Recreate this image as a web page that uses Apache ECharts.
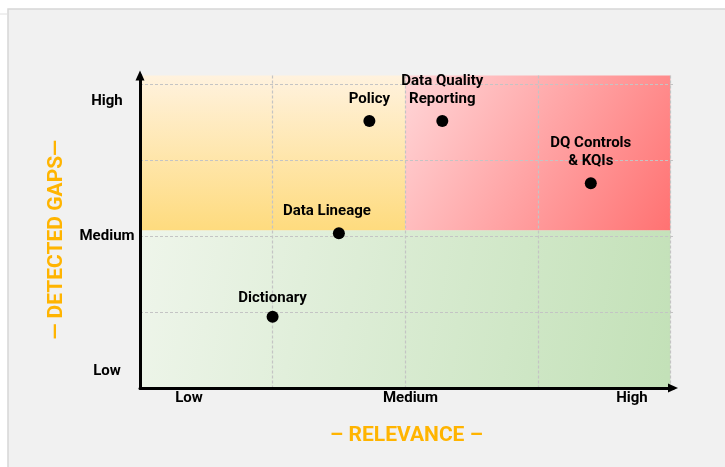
<!DOCTYPE html>
<html><head><meta charset="utf-8">
<script src="https://cdn.jsdelivr.net/npm/echarts@6/dist/echarts.min.js"></script>
<style>html,body{margin:0;padding:0;background:#fff}#c{width:725px;height:467px}</style>
</head><body><div id="c"></div>
<script>
// ---- data ----
const pointNames = ['Policy', 'Data Quality\nReporting', 'DQ Controls\n& KQIs', 'Data Lineage', 'Dictionary'];
const relevance = [1.73, 2.28, 3.40, 1.50, 1.00];
const detectedGaps = [3.52, 3.52, 2.70, 2.04, 0.94];
const xTickLabels = ['Low', 'Medium', 'High'];
const xTickValues = [0.37, 2.04, 3.71];
const yTickLabels = ['Low', 'Medium', 'High'];
const yTickValues = [0.22, 2.0, 3.78];
const gridValues = [0, 1, 2, 3, 4];
const zoneX = [[0, 4], [0, 2], [2, 4]];
const zoneY = [[0, 2.08], [2.08, 4.12], [2.08, 4.12]];
const xName = '– RELEVANCE –';
const yName = '— DETECTED GAPS—';

// ---- styles ----
const FONT = 'Roboto, "Liberation Sans", Arial, sans-serif';
const ORANGE = '#FFB400';
const zoneColors = [
  {type: 'linear', x: 0, y: 0.2, x2: 1, y2: 0.8, colorStops: [{offset: 0, color: '#eef5ea'}, {offset: 1, color: '#c3e1b8'}]},
  {type: 'linear', x: 0, y: 0, x2: 0, y2: 1, colorStops: [{offset: 0, color: '#fff2de'}, {offset: 1, color: '#fedb7e'}]},
  {type: 'linear', x: 0, y: 0, x2: 1, y2: 1, colorStops: [{offset: 0, color: '#ffd6d8'}, {offset: 1, color: '#ff7272'}]}
];
const labelOffsets = {'Data Lineage': [-12, 0], 'Dictionary': [0, 4]};

function pick(values, labels) {
  return function (v) {
    const i = values.findIndex(t => Math.abs(t - v) < 1e-6);
    return i >= 0 ? labels[i] : '';
  };
}

const chart = echarts.init(document.getElementById('c'), null, {renderer: 'canvas'});
const axisLineStyle = {color: '#000', width: 3};
const splitStyle = {show: true, lineStyle: {color: '#c4c4c4', width: 1.2, type: [3, 2]}};

chart.setOption({
  backgroundColor: '#ffffff',
  animation: false,
  graphic: [
    {type: 'rect', z: -10, shape: {x: 8, y: 9, width: 730, height: 470},
     style: {fill: '#f1f1f1', stroke: '#d6d6d6', lineWidth: 1.5}},
    {type: 'line', z: -10, shape: {x1: 0, y1: 14, x2: 8, y2: 14},
     style: {stroke: '#e0e0e0', lineWidth: 1}}
  ],
  grid: {left: 140, right: 52, top: 75.5, bottom: 79},
  xAxis: {
    type: 'value', min: 0, max: 4.02, z: 2,
    name: xName, nameLocation: 'middle', nameGap: 37,
    nameTextStyle: {color: ORANGE, fontSize: 21, fontWeight: 'bold', fontFamily: FONT},
    axisLine: {show: true, lineStyle: axisLineStyle, symbol: ['none', 'triangle'], symbolSize: [9, 10], symbolOffset: [0, 0]},
    axisTick: {show: false, customValues: gridValues},
    axisLabel: {customValues: xTickValues, formatter: pick(xTickValues, xTickLabels), margin: 3,
      color: '#000', fontSize: 15, fontWeight: 'bold', fontFamily: FONT},
    splitLine: splitStyle
  },
  yAxis: {
    type: 'value', min: 0, max: 4.12, z: 2,
    name: yName, nameLocation: 'middle', nameGap: 73,
    nameTextStyle: {color: ORANGE, fontSize: 21, fontWeight: 'bold', fontFamily: FONT, padding: [0, 16, 0, 0]},
    axisLine: {show: true, lineStyle: axisLineStyle, symbol: ['none', 'triangle'], symbolSize: [9, 10], symbolOffset: [0, 0]},
    axisTick: {show: false, customValues: gridValues},
    axisLabel: {customValues: yTickValues, formatter: pick(yTickValues, yTickLabels), margin: 33, align: 'center',
      color: '#000', fontSize: 15, fontWeight: 'bold', fontFamily: FONT},
    splitLine: splitStyle
  },
  series: [
    {
      type: 'scatter', z: 1, data: [], silent: true,
      markArea: {
        silent: true,
        data: zoneX.map((xr, i) => [
          {coord: [xr[0], zoneY[i][0]], itemStyle: {color: zoneColors[i], opacity: 1}},
          {coord: [xr[1], zoneY[i][1]]}
        ])
      }
    },
    {
      type: 'scatter', z: 3, symbol: 'circle', symbolSize: 12,
      itemStyle: {color: '#000', opacity: 1},
      label: {show: true, position: 'top', distance: 7, formatter: '{b}', color: '#000',
        fontSize: 15, fontWeight: 'bold', fontFamily: FONT, lineHeight: 18, align: 'center'},
      data: pointNames.map((n, i) => {
        const item = {name: n, value: [relevance[i], detectedGaps[i]]};
        if (labelOffsets[n]) item.label = {offset: labelOffsets[n]};
        return item;
      })
    }
  ]
});
</script>
</body></html>
